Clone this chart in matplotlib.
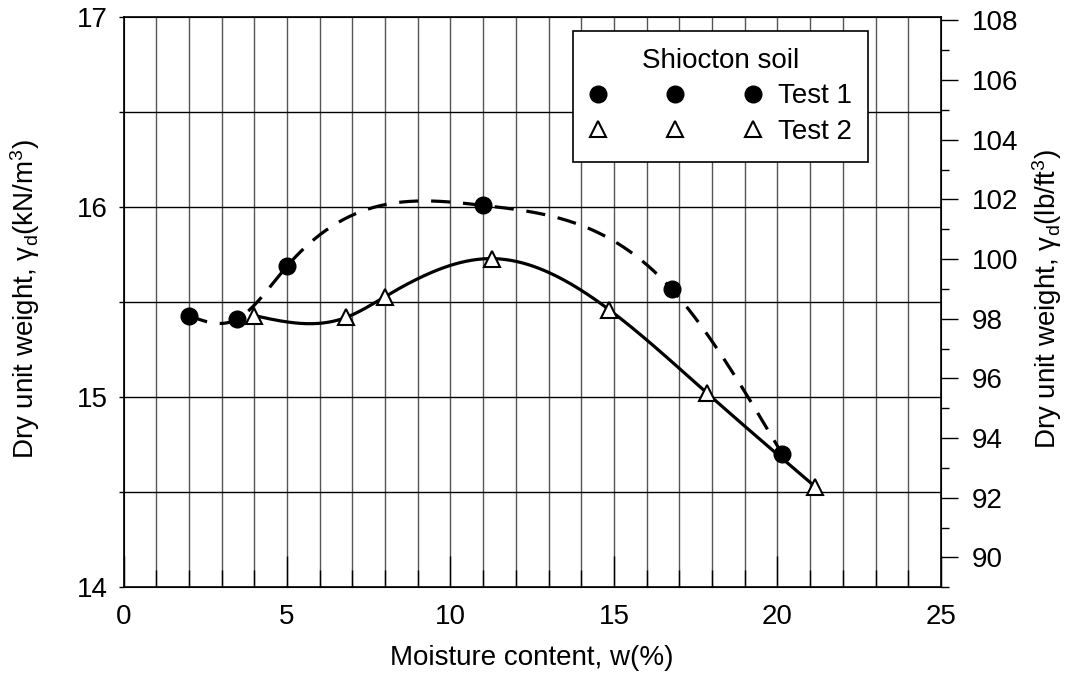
import numpy as np
import matplotlib
matplotlib.use("Agg")
import matplotlib.pyplot as plt
from matplotlib.lines import Line2D
from matplotlib.ticker import MultipleLocator

plt.rcParams['font.family'] = ['Liberation Sans', 'DejaVu Sans']
plt.rcParams['mathtext.fontset'] = 'custom'
plt.rcParams['mathtext.rm'] = 'Liberation Sans'
plt.rcParams['mathtext.it'] = 'Liberation Sans:italic'

# data (moisture %, dry unit weight kN/m3)
test1_w = [2.0, 3.46, 5.0, 11.0, 16.76, 20.15]
test1_gd = [15.43, 15.41, 15.69, 16.01, 15.57, 14.70]
test2_w = [4.0, 6.8, 8.0, 11.26, 14.86, 17.86, 21.15]
test2_gd = [15.43, 15.42, 15.53, 15.73, 15.46, 15.02, 14.53]


def smooth_curve(x, y, n=300):
    # natural cubic spline through the points (like the smoothed line of the original)
    x = np.asarray(x, float)
    y = np.asarray(y, float)
    k = len(x)
    h = np.diff(x)
    A = np.zeros((k, k))
    b = np.zeros(k)
    A[0, 0] = 1
    A[-1, -1] = 1
    for i in range(1, k - 1):
        A[i, i - 1] = h[i - 1]
        A[i, i] = 2 * (h[i - 1] + h[i])
        A[i, i + 1] = h[i]
        b[i] = 3 * ((y[i + 1] - y[i]) / h[i] - (y[i] - y[i - 1]) / h[i - 1])
    c = np.linalg.solve(A, b)
    xs = np.linspace(x[0], x[-1], n)
    idx = np.clip(np.searchsorted(x, xs) - 1, 0, k - 2)
    dx = xs - x[idx]
    bb = (y[idx + 1] - y[idx]) / h[idx] - h[idx] * (2 * c[idx] + c[idx + 1]) / 3
    dd = (c[idx + 1] - c[idx]) / (3 * h[idx])
    ys = y[idx] + bb * dx + c[idx] * dx ** 2 + dd * dx ** 3
    return xs, ys


fig = plt.figure(figsize=(10.65, 6.82), dpi=100)
ax = fig.add_axes([0.116, 0.1389, 0.7675, 0.8357])

fs = 20

# grid
for xv in range(1, 25):
    ax.axvline(xv, color='#555555', lw=1.0, zorder=1)
for yv in np.arange(14.5, 17.0, 0.5):
    ax.axhline(yv, color='black', lw=1.0, zorder=1)

sx, sy = smooth_curve(test1_w, test1_gd)
ax.plot(sx, sy, color='black', lw=2.3, ls=(0, (6, 4)), zorder=3)
sx, sy = smooth_curve(test2_w, test2_gd)
ax.plot(sx, sy, color='black', lw=2.3, zorder=3)

ax.plot(test1_w, test1_gd, ls='none', marker='o', ms=12, color='black', zorder=4)
ax.plot(test2_w, test2_gd, ls='none', marker='^', ms=11.5, mfc='white', mec='black',
        mew=1.5, zorder=4)

ax.set_xlim(0, 25)
ax.set_ylim(14, 17)
ax.xaxis.set_major_locator(MultipleLocator(5))
ax.xaxis.set_minor_locator(MultipleLocator(1))
ax.yaxis.set_major_locator(MultipleLocator(1))
ax.yaxis.set_minor_locator(MultipleLocator(0.5))
ax.tick_params(axis='x', which='major', direction='in', length=22, width=1, pad=12, labelsize=fs)
ax.tick_params(axis='x', which='minor', direction='in', length=12, width=1)
ax.tick_params(axis='y', which='both', direction='out', length=3.5, width=1, pad=8, labelsize=fs)
for sp in ax.spines.values():
    sp.set_linewidth(1.2)

ax2 = ax.twinx()
ax2.set_ylim(89.0, 108.1)
ax2.yaxis.set_major_locator(MultipleLocator(2))
ax2.yaxis.set_minor_locator(MultipleLocator(1))
ax2.tick_params(axis='y', which='major', direction='out', length=12, width=1, pad=10, labelsize=fs)
ax2.tick_params(axis='y', which='minor', direction='out', length=5.5, width=1)

fig.text(0.4996, 0.035, 'Moisture content, w(%)', ha='center', va='center', fontsize=fs)
fig.text(0.0235, 0.5618, r'Dry unit weight, γ$_{\mathrm{d}}$(kN/m$^{3}$)', rotation=90,
         ha='center', va='center', fontsize=fs)
fig.text(0.983, 0.5618, r'Dry unit weight, γ$_{\mathrm{d}}$(lb/ft$^{3}$)', rotation=90,
         ha='center', va='center', fontsize=fs)

handles = [
    Line2D([], [], ls='none', marker='o', ms=12, color='black'),
    Line2D([], [], ls='none', marker='^', ms=11.5, mfc='white', mec='black', mew=1.5),
]
leg = ax.legend(handles, ['Test 1', 'Test 2'], title='Shiocton soil', numpoints=3,
                handlelength=6.2, handletextpad=0.58, labelspacing=0.35, borderpad=0.6,
                borderaxespad=0, loc='upper left', bbox_to_anchor=(0.5495, 0.976),
                fontsize=fs, title_fontsize=fs, fancybox=False, framealpha=1,
                edgecolor='black')
leg.get_frame().set_linewidth(1.2)
leg.set_zorder(5)

fig.savefig('out.png', dpi=100)
